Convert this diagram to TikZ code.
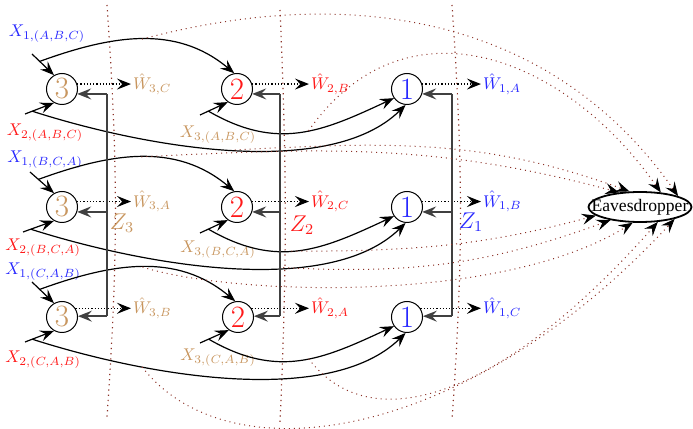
\documentclass[tikz,border=0pt]{standalone}
\usepackage{fontspec}
\newfontfamily\evefont{Liberation Serif}
\usetikzlibrary{arrows.meta,shapes.geometric}
\definecolor{cblue}{RGB}{40,40,255}
\definecolor{cred}{RGB}{255,25,25}
\definecolor{ctan}{RGB}{200,150,95}
\definecolor{cbrown}{RGB}{140,50,40}
\begin{document}
\begin{tikzpicture}[x=0.5pt,y=0.5pt,
  >={Stealth[length=7pt,width=5.5pt,inset=2.6pt]},
  nd/.style={circle,draw,line width=0.5pt,minimum size=15.5pt,inner sep=0pt,font=\fontsize{15.5}{18}\selectfont},
  xarr/.style={->,line width=0.6pt},
  outarr/.style={->,densely dotted,line width=0.6pt},
  fb/.style={->,line width=0.7pt,black!75},
  zline/.style={line width=0.7pt,black!75},
  sepline/.style={cbrown,dotted,line width=0.6pt},
  eavarr/.style={cbrown,dotted,line width=0.5pt,-{Stealth[length=7pt,width=5.5pt,inset=2.6pt,color=black]}},
  lab/.style={inner sep=1pt,scale=0.85},
  zlab/.style={inner sep=1pt,font=\large,scale=0.95},
]
\useasboundingbox (0,0) rectangle (693,429);

% separators
\draw[sepline] (107,424) to[bend left=4] (107,12);
\draw[sepline] (280,419) to[bend left=2.5] (280,6);
\draw[sepline] (452,424) to[bend left=4] (452,9);

% nodes
\node[nd,text=ctan] (n31) at (62,340) {3};
\node[nd,text=cred] (n21) at (237,340) {2};
\node[nd,text=cblue] (n11) at (407,340) {1};
\node[nd,text=ctan] (n32) at (62,222) {3};
\node[nd,text=cred] (n22) at (237,222) {2};
\node[nd,text=cblue] (n12) at (407,222) {1};
\node[nd,text=ctan] (n33) at (62,112) {3};
\node[nd,text=cred] (n23) at (238,112) {2};
\node[nd,text=cblue] (n13) at (407,112) {1};

\node[draw,ellipse,line width=0.9pt,minimum width=51.5pt,minimum height=15pt,inner sep=0pt] (eve) at (640,222) {};
\node[inner sep=0pt,font=\fontsize{8.8}{10}\evefont] (evetxt) at (eve.center) {Eavesdropper};

% input labels
\node[lab,text=cblue] (l11) at (47,395) {$X_{1,(A,B,C)}$};
\node[lab,text=cred]  (l21) at (45,296) {$X_{2,(A,B,C)}$};
\node[lab,text=ctan]  (l31) at (218,294) {$X_{3,(A,B,C)}$};
\node[lab,text=cblue] (l12) at (45,269) {$X_{1,(B,C,A)}$};
\node[lab,text=cred]  (l22) at (43,181) {$X_{2,(B,C,A)}$};
\node[lab,text=ctan]  (l32) at (218,179) {$X_{3,(B,C,A)}$};
\node[lab,text=cblue] (l13) at (43,157) {$X_{1,(C,A,B)}$};
\node[lab,text=cred]  (l23) at (43,69) {$X_{2,(C,A,B)}$};
\node[lab,text=ctan]  (l33) at (218,71) {$X_{3,(C,A,B)}$};

% stub starts
\coordinate (s11) at (32,375); \coordinate (s21) at (25,315); \coordinate (s31) at (200,314);
\coordinate (s12) at (30,257); \coordinate (s22) at (23,197); \coordinate (s32) at (200,196);
\coordinate (s13) at (32,147); \coordinate (s23) at (25,87);  \coordinate (s33) at (200,86);

% row 1
\draw[xarr] (s11) -- coordinate[pos=0.35] (c11) (n31.120);
\draw[xarr] (c11) to[out=20,in=140] coordinate[pos=0.5] (m11) (n21.100);
\draw[xarr] (s21) -- coordinate[pos=0.25] (c21) (n31.240);
\draw[xarr] (c21) .. controls (150,280) and (330,250) .. coordinate[pos=0.5] (m21) (n11.265);
\draw[xarr] (s31) -- coordinate[pos=0.3] (c31) (n21.235);
\draw[xarr] (c31) to[out=-30,in=205,looseness=1.1] coordinate[pos=0.55] (m31) (n11.215);
% row 2
\draw[xarr] (s12) -- coordinate[pos=0.35] (c12) (n32.120);
\draw[xarr] (c12) to[out=20,in=140] coordinate[pos=0.5] (m12) (n22.100);
\draw[xarr] (s22) -- coordinate[pos=0.25] (c22) (n32.240);
\draw[xarr] (c22) .. controls (150,162) and (330,132) .. coordinate[pos=0.62] (m22) (n12.265);
\draw[xarr] (s32) -- coordinate[pos=0.3] (c32) (n22.235);
\draw[xarr] (c32) to[out=-30,in=205,looseness=1.1] coordinate[pos=0.45] (m32) (n12.215);
% row 3
\draw[xarr] (s13) -- coordinate[pos=0.35] (c13) (n33.120);
\draw[xarr] (c13) to[out=20,in=140] coordinate[pos=0.5] (m13) (n23.100);
\draw[xarr] (s23) -- coordinate[pos=0.25] (c23) (n33.240);
\draw[xarr] (c23) .. controls (150,52) and (330,22) .. coordinate[pos=0.28] (m23) (n13.265);
\draw[xarr] (s33) -- coordinate[pos=0.3] (c33) (n23.235);
\draw[xarr] (c33) to[out=-30,in=205,looseness=1.1] coordinate[pos=0.55] (m33) (n13.215);

% outputs
\coordinate (wx3) at (131,0); \coordinate (wx2) at (309,0); \coordinate (wx1) at (481,0);
\node[lab,text=ctan,anchor=west]  (w31) at (wx3 |- n31.18) {$\hat{W}_{3,C}$};
\node[lab,text=cred,anchor=west]  (w21) at (wx2 |- n21.18) {$\hat{W}_{2,B}$};
\node[lab,text=cblue,anchor=west] (w11) at (wx1 |- n11.18) {$\hat{W}_{1,A}$};
\node[lab,text=ctan,anchor=west]  (w32) at (wx3 |- n32.20) {$\hat{W}_{3,A}$};
\node[lab,text=cred,anchor=west]  (w22) at (wx2 |- n22.20) {$\hat{W}_{2,C}$};
\node[lab,text=cblue,anchor=west] (w12) at (wx1 |- n12.20) {$\hat{W}_{1,B}$};
\node[lab,text=ctan,anchor=west]  (w33) at (wx3 |- n33.33) {$\hat{W}_{3,B}$};
\node[lab,text=cred,anchor=west]  (w23) at (wx2 |- n23.33) {$\hat{W}_{2,A}$};
\node[lab,text=cblue,anchor=west] (w13) at (wx1 |- n13.33) {$\hat{W}_{1,C}$};
\draw[outarr] (n31.18) -- (w31.west);
\draw[outarr] (n21.18) -- (w21.west);
\draw[outarr] (n11.18) -- (w11.west);
\draw[outarr] (n32.20) -- (w32.west);
\draw[outarr] (n22.20) -- (w22.west);
\draw[outarr] (n12.20) -- (w12.west);
\draw[outarr] (n33.33) -- (w33.west);
\draw[outarr] (n23.33) -- (w23.west);
\draw[outarr] (n13.33) -- (w13.west);

% feedback keys
\coordinate (z3x) at (107,0); \coordinate (z2x) at (280,0); \coordinate (z1x) at (452,0);
\draw[zline] (z3x |- n31.-18) -- (z3x |- n33.3);
\draw[fb] (z3x |- n31.-18) -- (n31.-18);
\draw[fb] (z3x |- n32.-18) -- (n32.-18);
\draw[fb] (z3x |- n33.3) -- (n33.3);
\draw[zline] (z2x |- n21.-18) -- (z2x |- n23.3);
\draw[fb] (z2x |- n21.-18) -- (n21.-18);
\draw[fb] (z2x |- n22.-18) -- (n22.-18);
\draw[fb] (z2x |- n23.3) -- (n23.3);
\draw[zline] (z1x |- n11.-18) -- (z1x |- n13.3);
\draw[fb] (z1x |- n11.-18) -- (n11.-18);
\draw[fb] (z1x |- n12.-18) -- (n12.-18);
\draw[fb] (z1x |- n13.3) -- (n13.3);
\node[zlab,text=ctan]  (zl3) at (122,206) {$Z_3$};
\node[zlab,text=cred]  (zl2) at (302,204) {$Z_2$};
\node[zlab,text=cblue] (zl1) at (471,207) {$Z_1$};

% eavesdropper links
\draw[eavarr] (m11) to[out=15,in=125] (eve.16);
\draw[eavarr] (m31) to[out=55,in=125,looseness=1.2] (eve.35);
\draw[eavarr] (m21) to[out=3,in=160] (eve.124);
\draw[eavarr] (m12) to[out=3,in=165] (eve.145);
\draw[eavarr] (m32) to[out=0,in=195] (eve.191);
\draw[eavarr] (m22) to[out=-3,in=200] (eve.204);
\draw[eavarr] (m13) .. controls (230,134) and (500,124) .. (eve.245);
\draw[eavarr] (m33) .. controls (370,-11) and (500,29) .. (eve.320);
\draw[eavarr] (m23) .. controls (230,-51) and (470,-11) .. (eve.341);
\end{tikzpicture}
\end{document}
